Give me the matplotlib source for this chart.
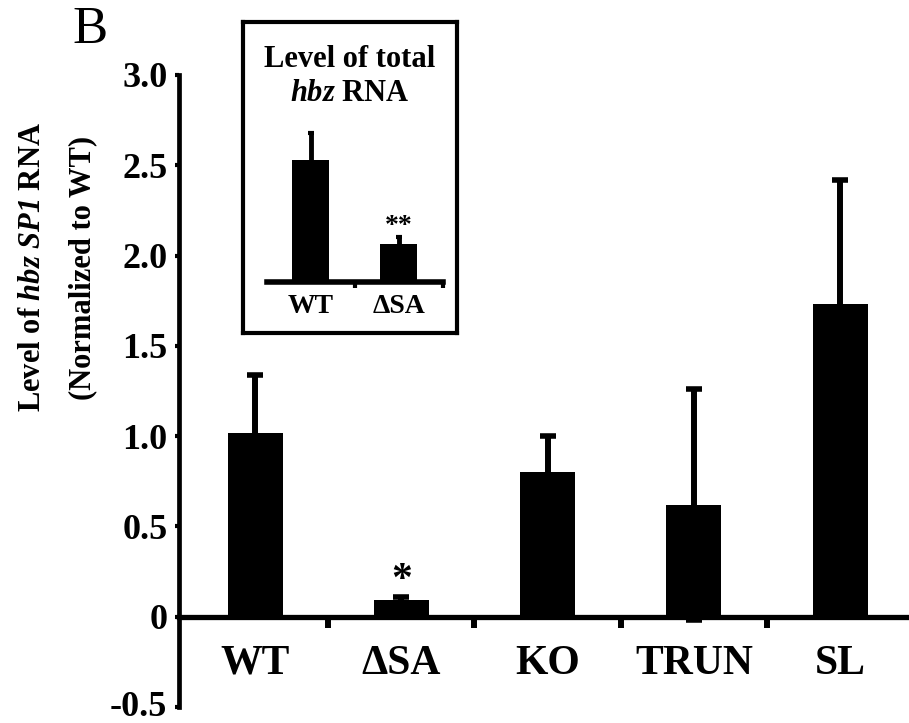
import numpy as np
import matplotlib
matplotlib.use("Agg")
import matplotlib.pyplot as plt
import matplotlib.transforms as mtransforms

plt.rcParams['font.family'] = ['Liberation Serif', 'DejaVu Serif']
plt.rcParams['font.weight'] = 'bold'
plt.rcParams['mathtext.fontset'] = 'custom'
plt.rcParams['mathtext.it'] = 'Liberation Serif:bold:italic'
plt.rcParams['mathtext.sf'] = 'Liberation Serif:bold:italic'
plt.rcParams['mathtext.rm'] = 'Liberation Serif:bold'
plt.rcParams['mathtext.bf'] = 'Liberation Serif:bold'

# main panel data
groups = ['WT', 'ΔSA', 'KO', 'TRUN', 'SL']
levels = [1.02, 0.09, 0.80, 0.62, 1.73]
errors = [0.32, 0.02, 0.20, 0.64, 0.69]
ytick_vals = [-0.5, 0, 0.5, 1.0, 1.5, 2.0, 2.5, 3.0]
ytick_txt = ['-0.5', '0', '0.5', '1.0', '1.5', '2.0', '2.5', '3.0']

# inset data (relative to WT)
inset_groups = ['WT', 'ΔSA']
inset_levels = [1.0, 0.31]
inset_errors = [0.22, 0.06]

fig = plt.figure(figsize=(9.09, 7.23), dpi=100)

# main axes
ax = fig.add_axes([0.1964, 0.0221, 0.8036, 0.8742])
x = np.arange(len(groups))
ax.bar(x, levels, width=0.376, color='black', zorder=2)
ax.errorbar(x, levels, yerr=errors, fmt='none', ecolor='black',
            elinewidth=4.3, capsize=6, capthick=4, zorder=3)

ax.set_xlim(-0.523, 4.47)
ax.set_ylim(-0.5, 3.0)
for s in ['top', 'right']:
    ax.spines[s].set_visible(False)
ax.spines['bottom'].set_position(('data', 0))
ax.spines['bottom'].set_linewidth(3.8)
ax.spines['left'].set_linewidth(3.4)

ax.set_xticks(x)
ax.set_xticklabels(groups, fontsize=30, fontweight='bold')
ax.set_xticks(np.arange(0.5, 4, 1.0), minor=True)
ax.tick_params(axis='x', which='major', length=0, pad=20)
ax.tick_params(axis='x', which='minor', length=8, width=4.3, direction='out')
ax.set_yticks(ytick_vals)
ax.set_yticklabels(ytick_txt, fontsize=26, fontweight='bold')
ax.tick_params(axis='y', length=3, width=3, pad=5)
# nudge the bottom label up so it stays inside the figure
low = ax.get_yticklabels()[0]
low.set_transform(low.get_transform() +
                  mtransforms.ScaledTranslation(0, 4 / 100, fig.dpi_scale_trans))

ax.text(1, 0.2, '*', ha='center', va='center', fontsize=30, fontweight='bold')

# y label (two lines)
fig.text(0.036, 0.63, r'Level of $\mathsf{hbz}$ $\mathsf{SP1}$ RNA', rotation=90,
         ha='center', va='center', fontsize=22, fontweight='bold')
fig.text(0.091, 0.63, '(Normalized to WT)', rotation=90,
         ha='center', va='center', fontsize=22, fontweight='bold')

# panel letter
fig.text(0.099, 0.959, 'B', ha='center', va='center', fontsize=38,
         fontweight='normal')

# inset frame
box = fig.add_axes([0.2673, 0.5394, 0.2355, 0.4302])
box.set_xticks([])
box.set_yticks([])
for s in box.spines.values():
    s.set_linewidth(3)
box.patch.set_facecolor('white')
box.text(0.5, 0.88, 'Level of total', transform=box.transAxes,
         ha='center', va='center', fontsize=22, fontweight='bold')
box.text(0.5, 0.77, r'$\mathsf{hbz}$ RNA', transform=box.transAxes,
         ha='center', va='center', fontsize=22, fontweight='bold')

# inset bars
ins = fig.add_axes([0.2937, 0.6100, 0.1936, 0.2379])
ins.patch.set_alpha(0)
xi = np.arange(len(inset_groups))
ins.bar(xi, inset_levels, width=0.42, color='black', zorder=2)
ins.errorbar(xi, inset_levels, yerr=inset_errors, fmt='none', ecolor='black',
             elinewidth=3.5, capsize=2.5, capthick=3, zorder=3)
ins.set_xlim(-0.5, 1.5)
ins.set_ylim(0, 1.41)
for s in ['top', 'right', 'left']:
    ins.spines[s].set_visible(False)
ins.spines['bottom'].set_linewidth(4)
ins.set_yticks([])
ins.set_xticks(xi)
ins.set_xticklabels(inset_groups, fontsize=20, fontweight='bold')
ins.set_xticks([0.5, 1.5], minor=True)
ins.tick_params(axis='x', which='major', length=0, pad=9)
ins.tick_params(axis='x', which='minor', length=4, width=3)
ins.text(1, 0.455, '**', ha='center', va='center', fontsize=20,
         fontweight='bold')

fig.savefig('out.png', dpi=100)
